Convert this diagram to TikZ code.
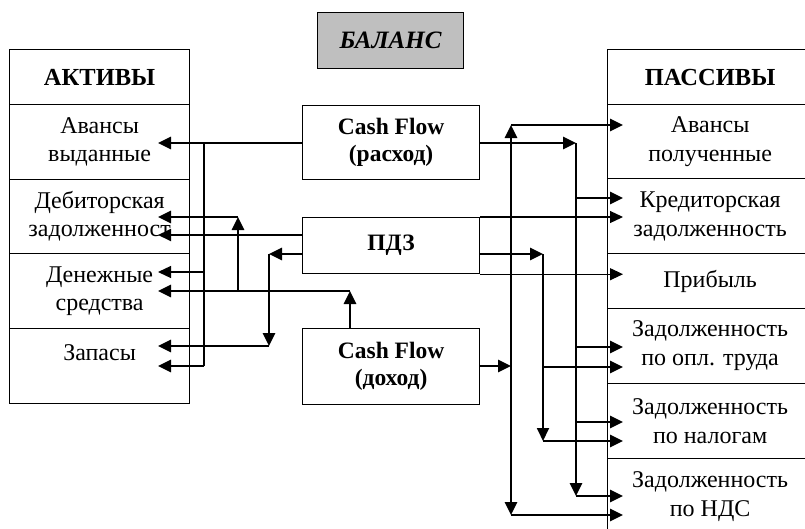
\documentclass[tikz,border=0pt]{standalone}
\usepackage{fontspec}
\setmainfont{Liberation Serif}
\usetikzlibrary{arrows.meta}
\begin{document}
\begin{tikzpicture}[x=1pt,y=-1pt,
  box/.style={draw, line width=1.2pt, inner sep=0pt, align=center, anchor=north west},
  lcell/.style={box, minimum width=180pt, minimum height=#1, font=\fontsize{24}{28}\selectfont},
  rcell/.style={box, minimum width=205pt, minimum height=#1, font=\fontsize{24}{29}\selectfont},
  hcell/.style={font=\fontsize{24.5}{28}\selectfont\bfseries},
  mid/.style={box, minimum width=177pt, minimum height=#1, font=\fontsize{23.5}{27}\selectfont\bfseries},
  arr/.style={-{Triangle[length=13pt,width=12pt]}},
  thk/.style={line width=2.8pt},
  med/.style={line width=1.8pt},
  thn/.style={line width=1.2pt}]
\useasboundingbox (0,0) rectangle (805,528);
\clip (0,0) rectangle (805,528);
\fill[white] (0,0) rectangle (805,528);

% title
\node[box, fill=black!25, minimum width=146pt, minimum height=56pt,
      font=\fontsize{25}{28}\selectfont\bfseries\itshape] (bal) at (317,12) {БАЛАНС};

% left column
\node[lcell=55pt, hcell] (aHead) at (9,49) {АКТИВЫ};
\node[lcell=75pt] (aAv)  at (9,104) {Авансы\\выданные};
\node[lcell=74pt] (aDeb) at (9,179) {Дебиторская\\задолженност};
\node[lcell=75pt] (aDen) at (9,253) {Денежные\\средства};
\node[lcell=75pt] (aZap) at (9,328) {Запасы\\[-9pt]\strut};

% right column
\node[rcell=55pt, hcell] (pHead) at (607,49) {ПАССИВЫ};
\node[rcell=74pt] (pAv)  at (607,104) {Авансы\\полученные};
\node[rcell=75pt] (pKr)  at (607,178) {Кредиторская\\задолженность};
\node[rcell=55pt] (pPr)  at (607,253) {Прибыль};
\node[rcell=75pt] (pTr)  at (607,308) {Задолженность\\по опл. труда};
\node[rcell=75pt] (pNal) at (607,383) {Задолженность\\по налогам};
\node[rcell=75pt] (pNds) at (607,458) {Задолженность\\по НДС};

% middle boxes
\node[mid=74pt] (cfOut) at (302,105) {Cash Flow\\(расход)};
\node[mid=56pt] (pdz)   at (302,217) {ПДЗ};
\node[mid=76pt] (cfIn)  at (302,328) {Cash Flow\\(доход)};

% left tips and junctions
\coordinate (tL1) at (158,143);
\coordinate (tL2) at (158,217);
\coordinate (tL3) at (158,235);
\coordinate (tL4) at (158,272);
\coordinate (tL5) at (158,291);
\coordinate (tL6) at (158,346);
\coordinate (tL7) at (158,366);
\coordinate (jV1top) at (204,143);
\coordinate (jV1bot) at (204,366);
\coordinate (jB1) at (269,254);
\coordinate (jB2) at (269,346);
\coordinate (jC1) at (350,291);
\coordinate (jC2) at (238,291);
\coordinate (jC3) at (238,217);

% right tips and junctions
\coordinate (tR1) at (623,125);
\coordinate (tR2) at (623,198);
\coordinate (tR5) at (623,347);
\coordinate (tR6) at (623,367);
\coordinate (tR7) at (623,422);
\coordinate (tR8) at (623,441);
\coordinate (tR9) at (623,496);
\coordinate (tR10) at (623,515);
\coordinate (k1) at (576,143);
\coordinate (k2) at (576,496);
\coordinate (m1) at (543,254);
\coordinate (m2) at (543,441);
\coordinate (n0) at (511,366);
\coordinate (n1) at (511,125);
\coordinate (n2) at (511,515);

% left connectors
\draw[thk,arr] (cfOut.west |- tL1) -- (tL1);
\draw[thn] (jV1top) -- (jV1bot);
\draw[thn,arr] (jV1top |- tL4) -- (tL4);
\draw[thk,arr] (jV1bot) -- (tL7);
\draw[med,arr] (pdz.west |- tL3) -- (tL3);
\draw[thk,arr] (pdz.west |- jB1) -- (jB1);
\draw[thk,arr] (jB1) -- (jB2);
\draw[thk,arr] (jB2) -- (tL6);
\draw[thk,arr] (cfIn.north -| jC1) -- (jC1);
\draw[thk,arr] (jC1) -- (tL5);
\draw[thk,arr] (jC2) -- (jC3);
\draw[thk,arr] (jC3) -- (tL2);

% right connectors
\draw[thk,arr] (cfOut.east |- k1) -- (k1);
\draw[thk,arr] (k1) -- (k2);
\draw[thk,arr] (k1 |- tR2) -- (tR2);
\draw[thk,arr] (k1 |- tR5) -- (tR5);
\draw[thk,arr] (k1 |- tR7) -- (tR7);
\draw[thk,arr] (k2) -- (tR9);
\draw[thn,arr] (pdz.north east) -- (pdz.north east -| tR1);
\draw[thn,arr] (pdz.south east) -- (pdz.south east -| tR1);
\draw[thk,arr] (pdz.east |- m1) -- (m1);
\draw[med,arr] (m1) -- (m2);
\draw[thk,arr] (m1 |- tR6) -- (tR6);
\draw[thk,arr] (m2) -- (tR8);
\draw[thk,arr] (cfIn.east |- n0) -- (n0);
\draw[thk,arr] (n0) -- (n1);
\draw[thk,arr] (n1) -- (tR1);
\draw[thk,arr] (n0) -- (n2);
\draw[thk,arr] (n2) -- (tR10);
\end{tikzpicture}
\end{document}
